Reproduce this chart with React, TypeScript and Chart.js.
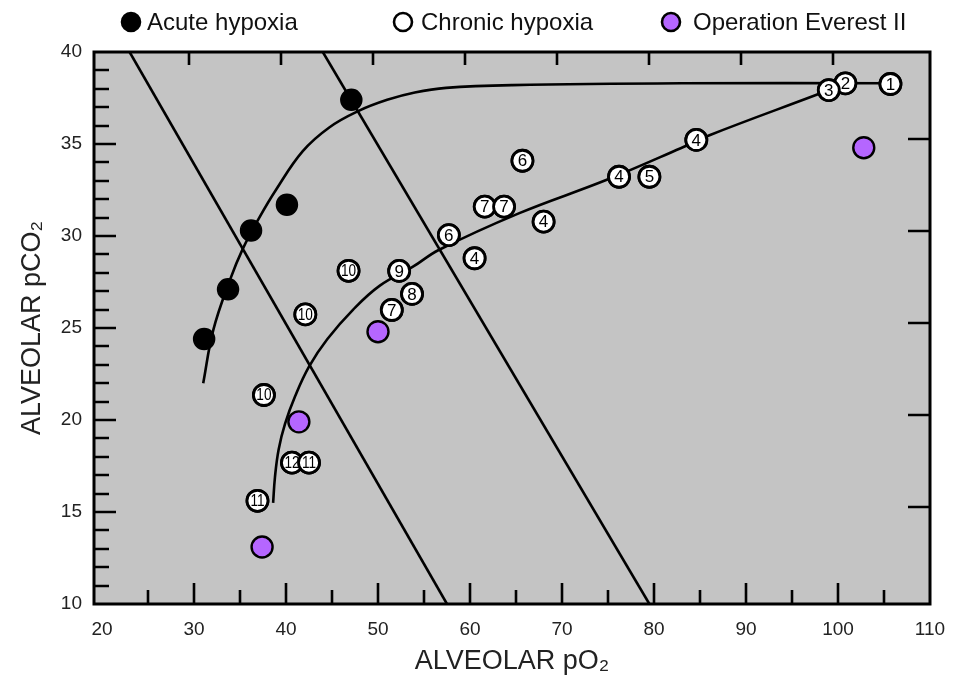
import React, { useEffect, useRef } from 'react';
import { Chart, registerables } from 'chart.js';

Chart.register(...registerables);

// ---- Data ----
const acuteX = [47.1, 40.1, 36.2, 33.7, 31.1];
const acuteY = [37.4, 31.7, 30.3, 27.1, 24.4];

const chronicX = [105.7, 100.8, 99.0, 84.6, 76.2, 79.5, 65.7, 61.6, 63.7, 68.0, 57.7, 60.5, 52.3, 53.7, 51.5, 46.8, 42.1, 37.6, 40.65, 42.5, 36.9];
const chronicY = [38.26, 38.3, 37.93, 35.22, 33.22, 33.22, 34.09, 31.6, 31.6, 30.78, 30.05, 28.79, 28.1, 26.85, 25.98, 28.11, 25.74, 21.36, 17.68, 17.68, 15.61];
const chronicLabels = ['1', '2', '3', '4', '4', '5', '6', '7', '7', '4', '6', '4', '9', '8', '7', '10', '10', '10', '12', '11', '11'];

const everestX = [102.8, 50.0, 41.4, 37.4];
const everestY = [34.8, 24.8, 19.9, 13.1];

// Acute hypoxia curve
const acuteCurveX = [31.0, 32.1, 33.9, 35.3, 37.1, 38.9, 41.8, 44.7, 47.9, 51.0, 54.0, 57.4, 64.6, 83.0, 105.7];
const acuteCurveY = [22.0, 24.9, 27.6, 29.3, 31.0, 32.5, 34.6, 35.9, 36.8, 37.4, 37.8, 38.05, 38.2, 38.3, 38.3];

// Chronic hypoxia curve
const chronicCurveX = [38.6, 38.8, 39.2, 39.9, 41.0, 42.5, 44.5, 47.3, 50.2, 53.8, 56.6, 65.3, 74.8, 82.9, 86.1, 97.6, 99.0];
const chronicCurveY = [15.5, 16.9, 18.4, 19.8, 21.3, 22.9, 24.4, 26.0, 27.3, 28.33, 29.24, 31.23, 33.04, 34.77, 35.49, 37.66, 37.93];

// Straight diagonal lines
const line1X = [23.0, 57.5];
const line1Y = [40, 10];
const line2X = [44.0, 79.5];
const line2Y = [40, 10];

// Axes
const xMin = 19.13, xMax = 110;
const xTickValues = [20, 30, 40, 50, 60, 70, 80, 90, 100, 110];
const xMinorTicks = [25, 35, 45, 55, 65, 75, 85, 95, 105];
const yMin = 10, yMax = 40, yStep = 5, yMinorStep = 1;
const xTitle = 'ALVEOLAR pO₂';
const yTitle = 'ALVEOLAR pCO₂';

const seriesNames = ['Acute hypoxia', 'Chronic hypoxia', 'Operation Everest II'];

const PURPLE = '#b566ff';
const PLOT_BG = '#c4c4c4';
const FONT = '"Liberation Sans", Arial, Helvetica, sans-serif';

const pts = (xs: number[], ys: number[]) => xs.map((x, i) => ({ x, y: ys[i] }));

const framePlugin = {
  id: 'frameTicks',
  beforeDatasetsDraw(chart: any) {
    const { ctx, chartArea: a, scales } = chart;
    const xs = scales.x, ys = scales.y;
    ctx.save();
    ctx.fillStyle = PLOT_BG;
    ctx.fillRect(a.left, a.top, a.right - a.left, a.bottom - a.top);
    ctx.strokeStyle = '#000';
    ctx.lineWidth = 2.6;
    ctx.lineCap = 'butt';
    ctx.beginPath();
    xMinorTicks.forEach((v) => {
      const px = Math.round(xs.getPixelForValue(v));
      ctx.moveTo(px, a.bottom);
      ctx.lineTo(px, a.bottom - 14);
    });
    xTickValues.forEach((v) => {
      if (v <= 20 || v >= 110) return;
      const px = Math.round(xs.getPixelForValue(v));
      ctx.moveTo(px, a.bottom);
      ctx.lineTo(px, a.bottom - 21);
      ctx.moveTo(px - 5, a.top);
      ctx.lineTo(px - 5, a.top + 13);
    });
    for (let v = yMin + yMinorStep; v < yMax; v += yMinorStep) {
      const py = Math.round(ys.getPixelForValue(v));
      const major = v % yStep === 0;
      const len = major ? 22 : 15;
      ctx.moveTo(a.left, py);
      ctx.lineTo(a.left + len, py);
      if (major) {
        ctx.moveTo(a.right, py - 5);
        ctx.lineTo(a.right - 22, py - 5);
      }
    }
    ctx.stroke();
    ctx.lineWidth = 3;
    ctx.strokeRect(a.left, a.top, a.right - a.left, a.bottom - a.top);
    ctx.restore();
  },
};

const labelPlugin = {
  id: 'chronicLabels',
  afterDatasetDraw(chart: any, args: any) {
    const ds = chart.data.datasets[args.index];
    if (!ds || !ds.pointLabels) return;
    const meta = args.meta;
    const { ctx, chartArea } = chart;
    ctx.save();
    ctx.textAlign = 'center';
    ctx.textBaseline = 'middle';
    meta.data.forEach((el: any, i: number) => {
      el.draw(ctx, chartArea);
      const t = ds.pointLabels[i];
      ctx.font = `${t.length > 1 ? 16 : 17}px ${FONT}`;
      ctx.fillStyle = '#000';
      ctx.save();
      ctx.translate(el.x, el.y + 1);
      if (t.length > 1) ctx.scale(0.85, 1);
      ctx.fillText(t, 0, 0);
      ctx.restore();
    });
    ctx.restore();
  },
};

const legendPlugin = {
  id: 'topLegend',
  afterDraw(chart: any) {
    const { ctx } = chart;
    const startX = [121, 393, 661];
    const cy = 22;
    ctx.save();
    ctx.font = `24px ${FONT}`;
    ctx.textBaseline = 'middle';
    ctx.textAlign = 'left';
    for (let i = 0; i < 3; i++) {
      const ds = chart.data.datasets[i];
      const r = 9;
      ctx.beginPath();
      ctx.arc(startX[i] + r + 1, cy, r, 0, Math.PI * 2);
      ctx.fillStyle = ds.backgroundColor;
      ctx.fill();
      ctx.lineWidth = 2.6;
      ctx.strokeStyle = '#000';
      ctx.stroke();
      ctx.fillStyle = '#111';
      ctx.fillText(ds.label, startX[i] + 2 * r + 8 + (i === 2 ? 6 : i === 1 ? 2 : 0), cy + 1);
    }
    ctx.restore();
  },
};

export default function App() {
  const ref = useRef<HTMLCanvasElement | null>(null);
  useEffect(() => {
    if (!ref.current) return;
    const lineDs = (label: string, xs: number[], ys: number[], tension: number) => ({
      type: 'line' as const,
      label,
      data: pts(xs, ys),
      showLine: true,
      borderColor: '#000',
      borderWidth: 2.6,
      pointRadius: 0,
      tension,
      fill: false,
    });
    const chart = new Chart(ref.current, {
      type: 'scatter',
      data: {
        datasets: [
          {
            label: seriesNames[0],
            data: pts(acuteX, acuteY),
            backgroundColor: '#000',
            borderColor: '#000',
            borderWidth: 1.5,
            pointRadius: 10.5,
          },
          {
            label: seriesNames[1],
            data: pts(chronicX, chronicY),
            backgroundColor: '#fff',
            borderColor: '#000',
            borderWidth: 2.8,
            pointRadius: 10.5,
            pointLabels: chronicLabels,
          } as any,
          {
            label: seriesNames[2],
            data: pts(everestX, everestY),
            backgroundColor: PURPLE,
            borderColor: '#000',
            borderWidth: 2.4,
            pointRadius: 10.5,
          },
          lineDs('acute curve', acuteCurveX, acuteCurveY, 0.4),
          lineDs('chronic curve', chronicCurveX, chronicCurveY, 0.4),
          lineDs('line 1', line1X, line1Y, 0),
          lineDs('line 2', line2X, line2Y, 0),
        ],
      },
      options: {
        responsive: false,
        animation: false,
        layout: { padding: { top: 52, right: 24, left: 0, bottom: 0 } },
        plugins: {
          legend: { display: false },
          tooltip: { enabled: false },
        },
        scales: {
          x: {
            type: 'linear',
            min: xMin,
            max: xMax,
            grid: { display: false, drawTicks: false },
            border: { display: false },
            afterBuildTicks: (s: any) => { s.ticks = xTickValues.map((value) => ({ value })); },
            ticks: { padding: 14, color: '#222', font: { family: FONT, size: 19 } },
            title: { display: true, text: xTitle, color: '#222', font: { family: FONT, size: 27 }, padding: { top: 0, bottom: 9 } },
            afterFit: (s: any) => { s.height = 83; s.paddingLeft = 0; s.paddingRight = 0; },
          },
          y: {
            type: 'linear',
            min: yMin,
            max: yMax,
            grid: { display: false, drawTicks: false },
            border: { display: false },
            ticks: { stepSize: yStep, padding: 12, color: '#222', font: { family: FONT, size: 19 } },
            title: { display: true, text: yTitle, color: '#222', font: { family: FONT, size: 27 }, padding: { top: 16, bottom: 0 } },
            afterFit: (s: any) => { s.width = 94; s.paddingTop = 0; s.paddingBottom = 0; },
          },
        },
      },
      plugins: [framePlugin, labelPlugin, legendPlugin],
    });
    return () => chart.destroy();
  }, []);
  return (
    <div style={{ position: 'fixed', left: 0, top: 0, width: 954, height: 687, background: '#fff' }}>
      <canvas ref={ref} width={954} height={687} style={{ display: 'block' }} />
    </div>
  );
}
